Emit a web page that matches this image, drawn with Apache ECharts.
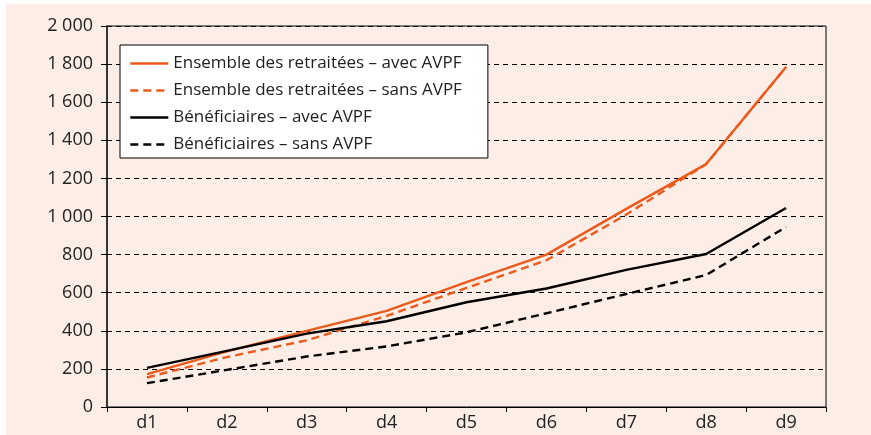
<!DOCTYPE html>
<html>
<head>
<meta charset="utf-8">
<script src="https://cdn.jsdelivr.net/npm/echarts@6/dist/echarts.min.js"></script>
<style>
  html, body { margin: 0; padding: 0; background: #ffffff; }
  #chart { position: absolute; left: 6px; top: 4px; width: 865px; height: 431px; background: #fcede6; }
</style>
</head>
<body>
<div id="chart"></div>
<script>
var categories = ['d1', 'd2', 'd3', 'd4', 'd5', 'd6', 'd7', 'd8', 'd9'];
var seriesNames = [
    'Ensemble des retraitées – avec AVPF',
    'Ensemble des retraitées – sans AVPF',
    'Bénéficiaires – avec AVPF',
    'Bénéficiaires – sans AVPF'
];
var ensembleAvec = [173, 292, 400, 505, 655, 800, 1040, 1275, 1785];
var ensembleSans = [155, 262, 350, 478, 625, 770, 1010, 1275, 1785];
var benefAvec = [205, 295, 385, 450, 550, 622, 720, 803, 1045];
var benefSans = [125, 195, 265, 318, 392, 492, 593, 693, 945];

var orange = '#ec5a1c';

function makeLine(name, data, color, type, z) {
    return {
        name: name,
        type: 'line',
        data: data,
        symbol: 'none',
        z: z,
        lineStyle: { color: color, width: 2.4, type: type === 'dashed' ? [8, 5] : 'solid' },
        itemStyle: { color: color }
    };
}

var option = {
    animation: false,
    textStyle: { fontFamily: 'Open Sans', color: '#222' },
    grid: {
        left: 101, right: 45, top: 22, bottom: 28,
        show: true, borderColor: '#000', borderWidth: 1, backgroundColor: 'transparent'
    },
    legend: {
        orient: 'vertical',
        left: 114, top: 41,
        backgroundColor: '#fff',
        borderColor: '#000', borderWidth: 1,
        padding: [10, 26, 5, 9],
        itemWidth: 38, itemHeight: 16, itemGap: 10,
        itemTextGap: 16,
        itemStyle: { opacity: 0 },
        lineStyle: { width: 2.6 },
        textStyle: { fontSize: 17, color: '#222', fontFamily: 'Open Sans' },
        data: seriesNames
    },
    xAxis: {
        type: 'category',
        data: categories,
        boundaryGap: true,
        axisLine: { lineStyle: { color: '#000', width: 1 } },
        axisTick: { show: true, length: 5, inside: false, lineStyle: { color: '#000' } },
        axisLabel: { fontSize: 18, color: '#222', margin: 7 },
        splitLine: { show: false }
    },
    yAxis: {
        type: 'value',
        min: 0, max: 2000, interval: 200,
        axisLine: { show: true, lineStyle: { color: '#222', width: 1.5 } },
        axisTick: { show: true, length: 6, lineStyle: { color: '#000' } },
        axisLabel: {
            fontSize: 18, color: '#222', margin: 14,
            formatter: function (v) {
                return String(v).replace(/\B(?=(\d{3})+(?!\d))/g, ' ');
            }
        },
        splitLine: { show: true, lineStyle: { color: '#000', width: 1, type: [5, 4] } }
    },
    series: [
        makeLine(seriesNames[1], ensembleSans, orange, 'dashed', 2),
        makeLine(seriesNames[0], ensembleAvec, orange, 'solid', 3),
        makeLine(seriesNames[3], benefSans, '#000', 'dashed', 2),
        makeLine(seriesNames[2], benefAvec, '#000', 'solid', 3)
    ]
};

var myChart = echarts.init(document.getElementById('chart'));
myChart.setOption(option);
</script>
</body>
</html>
